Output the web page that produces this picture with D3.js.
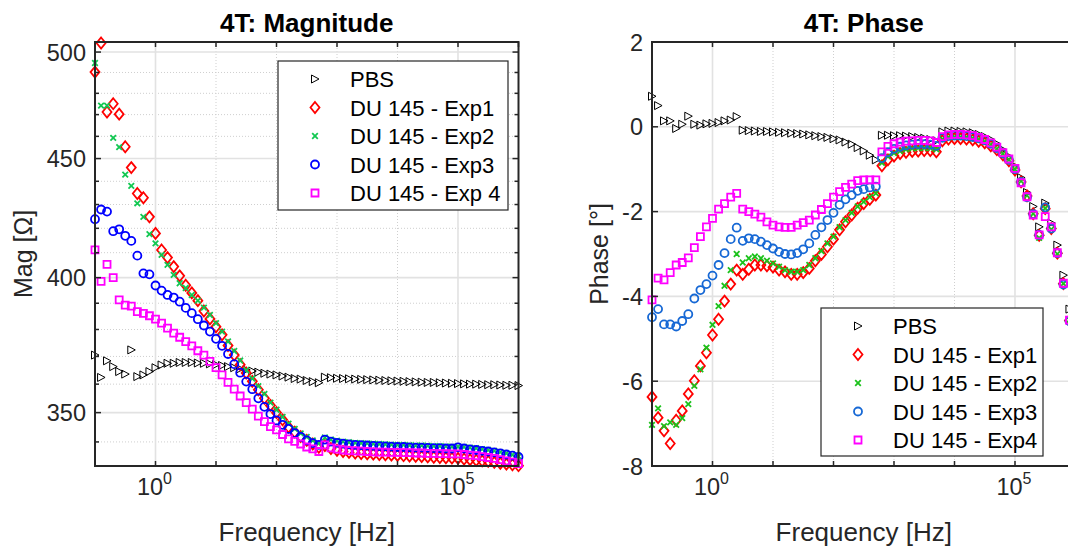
<!DOCTYPE html>
<html>
<head>
<meta charset="utf-8">
<script src="https://cdn.jsdelivr.net/npm/d3@7"></script>
<style>
body { margin: 0; background: #fff; }
text { font-family: "Liberation Sans", Arial, sans-serif; }
</style>
</head>
<body>
<div id="chart"></div>
<script>
// frequency grid [Hz], 10 points per decade
const freq = [
  0.1, 0.126, 0.158, 0.2, 0.251, 0.316, 0.398, 0.501, 0.631, 0.794,
  1, 1.26, 1.58, 2, 2.51, 3.16, 3.98, 5.01, 6.31, 7.94,
  10, 12.6, 15.8, 20, 25.1, 31.6, 39.8, 50.1, 63.1, 79.4,
  100, 126, 158, 200, 251, 316, 398, 501, 631, 794,
  1000, 1260, 1580, 2000, 2510, 3160, 3980, 5010, 6310, 7940,
  10000, 12600, 15800, 20000, 25100, 31600, 39800, 50100, 63100, 79400,
  100000, 126000, 158000, 200000, 251000, 316000, 398000, 501000, 631000, 794000,
  1000000
];

const seriesNames = ["PBS", "DU 145 - Exp1", "DU 145 - Exp2", "DU 145 - Exp3", "DU 145 - Exp 4"];
const seriesNamesPhase = ["PBS", "DU 145 - Exp1", "DU 145 - Exp2", "DU 145 - Exp3", "DU 145 - Exp4"];

// magnitude [Ohm]
const magPBS = [
  370.5, 362.4, 368.4, 366.3, 364.5, 363.6, 372.4, 362.7, 363.3, 364.5, 365.9, 366.9, 367.5, 367.5, 367.8,
  367.8, 367.8, 367.6, 367.5, 367.3, 367.0, 366.7, 366.3, 365.9, 365.5, 365.1, 364.7, 364.3, 363.9, 363.6,
  363.3, 362.9, 362.5, 362.0, 361.8, 361.3, 360.9, 360.5,
  362.5, 362.3, 362.1, 362.0, 361.9, 361.8, 361.7, 361.6, 361.5, 361.4,
  361.3, 361.2, 361.1, 361.0, 360.9, 360.8, 360.7, 360.6, 360.6, 360.5, 360.4, 360.3, 360.2, 360.1,
  360.0, 360.0, 359.9, 359.8, 359.8, 359.7, 359.6, 359.6, 359.5
];
const magExp1 = [
  490.2, 504.5, 471.2, 475.1, 470.2, 455.3, 446.0, 434.7, 432.9, 424.8, 417.9, 411.1, 408.0, 404.4, 400.7,
  397.0, 394.0, 391.0, 387.0, 384.0, 381.0, 378.0, 374.0, 370.5, 367.0, 364.0, 361.0, 358.0, 355.0, 352.5,
  350.0, 347.5, 345.0, 343.3, 341.8, 340.5, 339.3, 338.2,
  338.8, 337.8, 337.2, 336.8, 336.5, 336.3, 336.1, 336.0, 335.9, 335.8,
  335.7, 335.6, 335.5, 335.4, 335.3, 335.2, 335.1, 335.0, 334.9, 334.8, 334.7, 334.6, 334.5, 334.3,
  334.1, 333.9, 333.7, 333.5, 333.2, 332.9, 332.6, 332.4, 332.1
];
const magExp2 = [
  494.6, 474.2, 474.2, 459.3, 455.1, 442.9, 438.0, 430.5, 424.8, 417.6, 413.8, 409.1, 405.1, 401.1, 397.8,
  395.9, 393.2, 391.0, 388.3, 385.5, 382.4, 379.2, 375.5, 372.0, 368.5, 365.0, 362.0, 359.3, 356.5, 353.5,
  351.0, 348.5, 346.2, 344.4, 342.9, 341.7, 340.5, 339.5,
  341.5, 340.8, 340.4, 340.1, 339.9, 339.7, 339.6, 339.5, 339.4, 339.3,
  339.2, 339.1, 339.0, 339.0, 338.9, 338.8, 338.8, 338.7, 338.6, 338.6, 338.5, 338.4, 338.4, 338.3,
  338.1, 337.9, 337.6, 337.3, 337.0, 336.6, 336.2, 335.7, 335.2
];
const magExp3 = [
  423.8, 427.9, 427.0, 418.8, 419.6, 416.9, 414.8, 408.8, 401.7, 401.3, 396.9, 394.9, 393.2, 392.2, 390.6,
  388.2, 386.2, 383.9, 381.5, 379.2, 376.5, 373.9, 370.9, 367.2, 364.1, 360.9, 358.2, 355.0, 352.0, 349.5,
  347.3, 345.8, 344.4, 343.0, 341.7, 340.5, 339.6, 339.0,
  340.8, 340.1, 339.7, 339.4, 339.2, 339.0, 338.9, 338.8, 338.7, 338.6,
  338.5, 338.4, 338.3, 338.3, 338.2, 338.1, 338.1, 338.0, 337.9, 337.9, 337.8, 337.8, 338.2, 337.8,
  337.5, 337.3, 337.0, 336.8, 336.5, 336.2, 335.8, 335.4, 335.0
];
const magExp4 = [
  411.1, 398.5, 405.3, 400.0, 391.3, 389.3, 388.9, 386.8, 386.1, 385.2, 383.9, 382.4, 380.5, 378.6, 377.1,
  375.5, 373.9, 372.1, 370.5, 368.2, 365.9, 363.3, 360.6, 358.2, 355.8, 353.5, 351.2, 348.8, 346.9, 345.2,
  344.1, 342.5, 341.0, 340.2, 339.3, 338.3, 337.7, 336.8,
  339.0, 338.0, 337.6, 337.3, 337.1, 337.0, 336.9, 336.8, 336.7, 336.6,
  336.6, 336.5, 336.5, 336.4, 336.4, 336.3, 336.3, 336.2, 336.2, 336.1, 336.1, 336.0, 336.0, 335.8,
  335.6, 335.4, 335.1, 334.8, 334.5, 334.1, 333.7, 333.3, 332.8
];

// phase [deg]
const phPBS = [
  0.72, 0.50, 0.14, 0.14, -0.04, 0.06, 0.25, 0.06, 0.04, 0.07, 0.08, 0.10, 0.14, 0.16, 0.24,
  -0.08, -0.09, -0.10, -0.11, -0.11, -0.12, -0.13, -0.14, -0.15, -0.16, -0.17, -0.19, -0.21, -0.23, -0.25,
  -0.28, -0.31, -0.36, -0.41, -0.49, -0.57, -0.67, -0.78,
  -0.20, -0.20, -0.21, -0.21, -0.22, -0.23, -0.25, -0.27, -0.30, -0.33,
  -0.12, -0.10, -0.10, -0.11, -0.12, -0.14, -0.18, -0.23, -0.30, -0.40, -0.54, -0.70, -0.93, -1.20,
  -1.55, -1.88, -2.36, -1.80, -2.27, -2.79, -3.50, -4.30, -5.20
];
const phExp1 = [
  -6.37, -6.86, -7.17, -7.47, -6.92, -6.70, -6.30, -5.99, -5.64, -5.33, -4.91, -4.54, -4.11, -3.71, -3.38,
  -3.48, -3.36, -3.26, -3.26, -3.28, -3.31, -3.38, -3.42, -3.48, -3.48, -3.44, -3.34, -3.16, -3.01, -2.83,
  -2.65, -2.43, -2.24, -2.08, -1.92, -1.81, -1.71, -1.61,
  -0.92, -0.78, -0.69, -0.63, -0.60, -0.58, -0.57, -0.56, -0.56, -0.59,
  -0.33, -0.29, -0.28, -0.28, -0.29, -0.31, -0.34, -0.38, -0.45, -0.54, -0.66, -0.80, -1.02, -1.30,
  -1.63, -2.05, -2.56, -1.93, -2.40, -2.98, -3.70, -4.57, -5.42
];
const phExp2 = [
  -7.03, -6.64, -7.06, -6.97, -7.03, -6.87, -6.54, -6.11, -5.72, -5.21, -4.67, -4.23, -3.75, -3.38, -3.00,
  -3.20, -3.10, -3.06, -3.10, -3.16, -3.22, -3.30, -3.38, -3.42, -3.42, -3.38, -3.26, -3.10, -2.93, -2.75,
  -2.59, -2.37, -2.20, -2.03, -1.88, -1.77, -1.66, -1.57,
  -0.85, -0.70, -0.62, -0.57, -0.53, -0.51, -0.50, -0.50, -0.50, -0.53,
  -0.29, -0.25, -0.24, -0.24, -0.25, -0.27, -0.30, -0.35, -0.42, -0.52, -0.64, -0.78, -1.00, -1.28,
  -1.62, -2.05, -2.62, -1.92, -2.42, -3.00, -3.70, -4.55, -5.40
];
const phExp3 = [
  -4.49, -4.30, -4.66, -4.66, -4.71, -4.58, -4.42, -4.05, -3.85, -3.71, -3.51, -3.26, -2.98, -2.65, -2.38,
  -2.69, -2.63, -2.65, -2.71, -2.79, -2.87, -2.95, -3.00, -3.01, -2.98, -2.89, -2.75, -2.55, -2.37, -2.20,
  -2.03, -1.84, -1.71, -1.61, -1.51, -1.47, -1.43, -1.41,
  -0.74, -0.60, -0.52, -0.47, -0.44, -0.42, -0.41, -0.41, -0.42, -0.45,
  -0.26, -0.22, -0.21, -0.21, -0.22, -0.24, -0.27, -0.32, -0.40, -0.50, -0.63, -0.78, -1.00, -1.30,
  -1.66, -2.06, -2.55, -1.90, -2.40, -2.98, -3.72, -4.58, -5.42
];
const phExp4 = [
  -4.08, -3.57, -3.61, -3.44, -3.26, -3.20, -3.09, -2.85, -2.59, -2.36, -2.16, -1.94, -1.81, -1.66, -1.57,
  -1.94, -2.00, -2.06, -2.13, -2.24, -2.32, -2.36, -2.37, -2.37, -2.32, -2.26, -2.20, -2.08, -1.95, -1.81,
  -1.66, -1.53, -1.43, -1.35, -1.27, -1.25, -1.25, -1.25,
  -0.59, -0.46, -0.40, -0.36, -0.34, -0.33, -0.32, -0.32, -0.33, -0.37,
  -0.23, -0.19, -0.18, -0.18, -0.19, -0.21, -0.25, -0.30, -0.38, -0.48, -0.61, -0.76, -0.98, -1.32,
  -1.65, -2.08, -2.55, -2.12, -2.36, -2.97, -3.69, -4.56, -5.40
];

// axis ticks
const xDecades = [0.1, 1, 10, 100, 1000, 1e4, 1e5, 1e6];
const xLabelled = [{ v: 1, exp: "0" }, { v: 1e5, exp: "5" }];
const magTicks = [350, 400, 450, 500];
const magMinor = [340, 360, 370, 380, 390, 410, 420, 430, 440, 460, 470, 480, 490];
const phTicks = [-8, -6, -4, -2, 0, 2];

const width = 1068, height = 550;
const svg = d3.select("#chart").append("svg")
    .attr("width", width)
    .attr("height", height);

const axisColor = "#262626";

function markerPath(kind) {
    if (kind == "tri") return "M-3.5,-4L4,0L-3.5,4Z";
    if (kind == "dia") return "M0,-5.5L4.5,0L0,5.5L-4.5,0Z";
    if (kind == "x") return "M-2.8,-2.8L2.8,2.8M-2.8,2.8L2.8,-2.8";
    if (kind == "sq") return "M-3.5,-3.5H3.5V3.5H-3.5Z";
    let p = d3.path();
    p.arc(0, 0, 4, 0, 2 * Math.PI);
    p.closePath();
    return p.toString();
}

function drawPanel(cfg) {
    let g = svg.append("g");
    let x = d3.scaleLog().domain([0.1, 1e6]).range([cfg.left, cfg.right]);
    let y = cfg.y;

    // grid
    let grid = g.append("g");
    (cfg.yMinor || []).forEach(v => {
        grid.append("line")
            .attr("x1", cfg.left).attr("x2", cfg.right)
            .attr("y1", y(v)).attr("y2", y(v))
            .attr("stroke", "#cfcfcf").attr("stroke-width", 1)
            .attr("stroke-dasharray", "1,2");
    });
    xDecades.forEach(v => {
        if (v == 1 || v == 1e5 || v == 0.1 || v == 1e6) return;
        grid.append("line")
            .attr("x1", x(v)).attr("x2", x(v))
            .attr("y1", cfg.top).attr("y2", cfg.bottom)
            .attr("stroke", "#cfcfcf").attr("stroke-width", 1)
            .attr("stroke-dasharray", "1,2");
    });
    cfg.yTicks.forEach(v => {
        grid.append("line")
            .attr("x1", cfg.left).attr("x2", cfg.right)
            .attr("y1", y(v)).attr("y2", y(v))
            .attr("stroke", "#e2e2e2").attr("stroke-width", 1.6);
    });
    [1, 1e5].forEach(v => {
        grid.append("line")
            .attr("x1", x(v)).attr("x2", x(v))
            .attr("y1", cfg.top).attr("y2", cfg.bottom)
            .attr("stroke", "#e2e2e2").attr("stroke-width", 1.6);
    });

    // data markers
    cfg.series.forEach(s => {
        g.append("g").selectAll("path")
            .data(s.values.map((v, i) => [freq[i], v]).filter(d => d[1] >= y.domain()[0] && d[1] <= y.domain()[1]))
            .enter()
            .append("path")
            .attr("transform", d => "translate(" + x(d[0]) + "," + y(d[1]) + ")")
            .attr("d", markerPath(s.kind))
            .attr("fill", "none")
            .attr("stroke", s.color)
            .attr("stroke-width", s.sw);
    });

    // axes box
    g.append("rect")
        .attr("x", cfg.left).attr("y", cfg.top)
        .attr("width", cfg.right - cfg.left).attr("height", cfg.bottom - cfg.top)
        .attr("fill", "none").attr("stroke", axisColor).attr("stroke-width", 2);

    // ticks
    xDecades.forEach(v => {
        g.append("line").attr("x1", x(v)).attr("x2", x(v))
            .attr("y1", cfg.bottom).attr("y2", cfg.bottom - 5)
            .attr("stroke", axisColor).attr("stroke-width", 1.5);
        g.append("line").attr("x1", x(v)).attr("x2", x(v))
            .attr("y1", cfg.top).attr("y2", cfg.top + 5)
            .attr("stroke", axisColor).attr("stroke-width", 1.5);
    });
    cfg.yTicks.concat(cfg.yMinor || []).forEach(v => {
        let len = cfg.yTicks.includes(v) ? 6 : 4;
        g.append("line").attr("x1", cfg.left).attr("x2", cfg.left + len)
            .attr("y1", y(v)).attr("y2", y(v))
            .attr("stroke", axisColor).attr("stroke-width", 1.5);
        g.append("line").attr("x1", cfg.right).attr("x2", cfg.right - len)
            .attr("y1", y(v)).attr("y2", y(v))
            .attr("stroke", axisColor).attr("stroke-width", 1.5);
    });

    // tick labels
    cfg.yTicks.forEach(v => {
        g.append("text")
            .attr("x", cfg.left - 9).attr("y", y(v) + 8.5)
            .attr("text-anchor", "end")
            .attr("font-size", 23.5).attr("fill", axisColor)
            .text(v);
    });
    xLabelled.forEach(t => {
        let lbl = g.append("text")
            .attr("x", x(t.v) - 1).attr("y", cfg.bottom + 29)
            .attr("text-anchor", "middle")
            .attr("font-size", 23.5).attr("fill", axisColor);
        lbl.append("tspan").text("10");
        lbl.append("tspan").attr("font-size", 16).attr("dy", -11).text(t.exp);
    });

    // labels and title
    let cx = (cfg.left + cfg.right) / 2;
    g.append("text")
        .attr("x", cx).attr("y", 32)
        .attr("text-anchor", "middle")
        .attr("font-size", 26).attr("font-weight", "bold").attr("fill", "#000")
        .text(cfg.title);
    g.append("text")
        .attr("x", cx).attr("y", 541)
        .attr("text-anchor", "middle")
        .attr("font-size", 26).attr("fill", axisColor)
        .text("Frequency [Hz]");
    g.append("text")
        .attr("transform", "translate(" + cfg.yLabelX + "," + ((cfg.top + cfg.bottom) / 2) + ") rotate(-90)")
        .attr("text-anchor", "middle")
        .attr("font-size", 25).attr("fill", axisColor)
        .text(cfg.yLabel);

    // legend
    let L = cfg.legend;
    let lg = g.append("g");
    lg.append("rect")
        .attr("x", L.x).attr("y", L.y).attr("width", L.w).attr("height", L.h)
        .attr("fill", "#fff").attr("stroke", axisColor).attr("stroke-width", 1.2);
    cfg.series.forEach((s, i) => {
        let ry = L.y + 18 + i * 28.5;
        lg.append("path")
            .attr("transform", "translate(" + (L.x + 37) + "," + ry + ")")
            .attr("d", markerPath(s.kind))
            .attr("fill", "none").attr("stroke", s.color).attr("stroke-width", s.sw);
        lg.append("text")
            .attr("x", L.x + 72).attr("y", ry + 8)
            .attr("font-size", 22).attr("fill", "#000")
            .text(cfg.names[i]);
    });
}

drawPanel({
    left: 95, right: 518.5, top: 42, bottom: 466,
    y: d3.scaleLog().domain([332, 505]).range([466, 42]),
    yTicks: magTicks, yMinor: magMinor,
    title: "4T: Magnitude", yLabel: "Mag [Ω]", yLabelX: 32,
    names: seriesNames,
    legend: { x: 278, y: 61, w: 230, h: 149 },
    series: [
        { values: magPBS, kind: "tri", color: "#000000", sw: 1 },
        { values: magExp1, kind: "dia", color: "#ff0000", sw: 1.8 },
        { values: magExp2, kind: "x", color: "#12c852", sw: 1.8 },
        { values: magExp3, kind: "circ", color: "#0000ff", sw: 1.8 },
        { values: magExp4, kind: "sq", color: "#ff00ff", sw: 1.8 }
    ]
});

drawPanel({
    left: 652, right: 1075.5, top: 42, bottom: 466,
    y: d3.scaleLinear().domain([-8, 2]).range([466, 42]),
    yTicks: phTicks, yMinor: [],
    title: "4T: Phase", yLabel: "Phase [°]", yLabelX: 608,
    names: seriesNamesPhase,
    legend: { x: 821, y: 308, w: 222, h: 148 },
    series: [
        { values: phPBS, kind: "tri", color: "#000000", sw: 1 },
        { values: phExp1, kind: "dia", color: "#ff0000", sw: 1.8 },
        { values: phExp2, kind: "x", color: "#1cc21c", sw: 1.8 },
        { values: phExp3, kind: "circ", color: "#1668d5", sw: 1.8 },
        { values: phExp4, kind: "sq", color: "#ff00ff", sw: 1.8 }
    ]
});
</script>
</body>
</html>
